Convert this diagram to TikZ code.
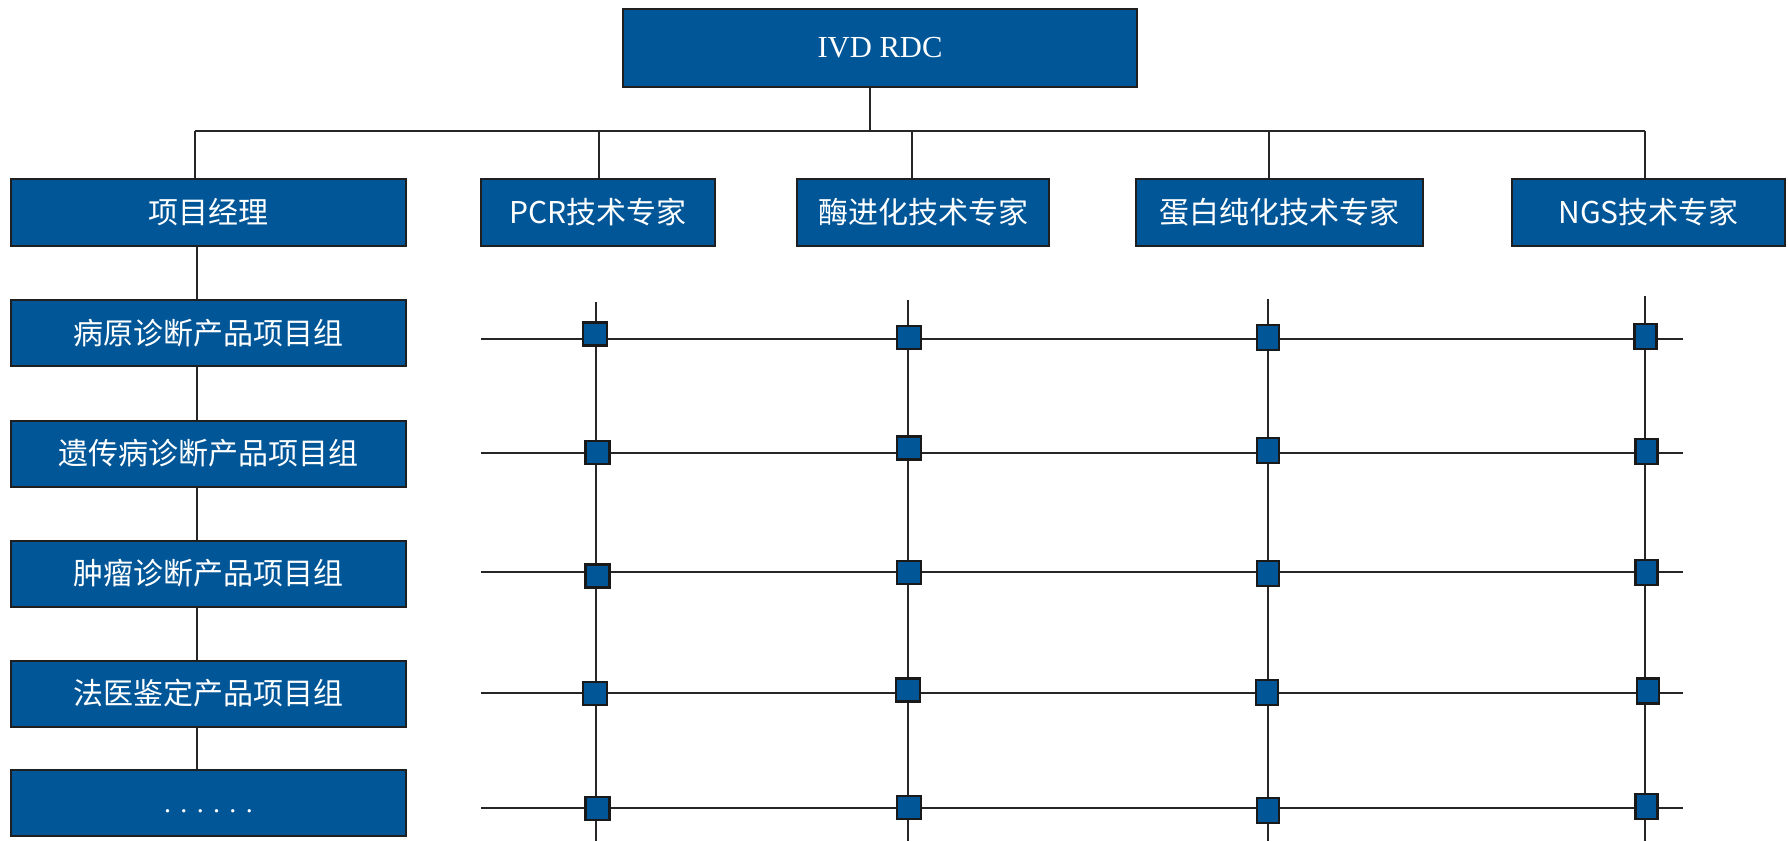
\documentclass[tikz,border=0pt]{standalone}
\usepackage{fontspec}
\setmainfont{Liberation Serif}
\newfontfamily\cjk{Noto Sans CJK SC}
\definecolor{boxblue}{RGB}{1,86,152}
\begin{document}
\begin{tikzpicture}[x=0.5pt,y=-0.5pt,
  box/.style={draw=black!88, line width=1pt, fill=boxblue, text=white, inner sep=0pt, font=\cjk\fontsize{15}{18}\selectfont},
  ln/.style={draw=black!85, line width=0.8pt},
  sqa/.style={draw=black!90, line width=1.2pt, fill=boxblue, inner sep=0pt, minimum width=12pt, minimum height=11.5pt},
  sqb/.style={sqa, minimum width=11pt, minimum height=12.5pt}]
\useasboundingbox (0,0) rectangle (1788,841);

% boxes
\node[box, minimum width=257pt, minimum height=39pt, font=\rmfamily\fontsize{15.3}{18}\selectfont] (top) at (880,48) {IVD RDC};
\node[box, minimum width=197.5pt, minimum height=33.5pt] (pm)  at (208.5,212.5) {项目经理};
\node[box, minimum width=117pt,   minimum height=33.5pt] (pcr) at (598,212.5) {PCR技术专家};
\node[box, minimum width=126pt,   minimum height=33.5pt] (enz) at (923,212.5) {酶进化技术专家};
\node[box, minimum width=143.5pt, minimum height=33.5pt] (pro) at (1279.5,212.5) {蛋白纯化技术专家};
\node[box, minimum width=136.5pt, minimum height=33.5pt] (ngs) at (1648.5,212.5) {NGS技术专家};

\node[box, minimum width=197.5pt, minimum height=33pt] (g1) at (208.5,333) {病原诊断产品项目组};
\node[box, minimum width=197.5pt, minimum height=33pt] (g2) at (208.5,453.5) {遗传病诊断产品项目组};
\node[box, minimum width=197.5pt, minimum height=33pt] (g3) at (208.5,573.5) {肿瘤诊断产品项目组};
\node[box, minimum width=197.5pt, minimum height=33pt] (g4) at (208.5,693.5) {法医鉴定产品项目组};
\node[box, minimum width=197.5pt, minimum height=33pt, text height=9pt, text depth=0pt, font=\rmfamily\fontsize{14}{18}\selectfont] (g5) at (208.5,803) {. . . . . .};

% tree connectors
\coordinate (bus) at (870,131);
\coordinate (bL) at (195,131);
\coordinate (d2) at (599,131);
\coordinate (d3) at (912,131);
\coordinate (d4) at (1269,131);
\coordinate (bR) at (1645,131);
\draw[ln] (top.south -| bus) -- (bus);
\draw[ln] (bL) -- (bR);
\draw[ln] (bL) -- (bL |- pm.north);
\draw[ln] (d2) -- (d2 |- pcr.north);
\draw[ln] (d3) -- (d3 |- enz.north);
\draw[ln] (d4) -- (d4 |- pro.north);
\draw[ln] (bR) -- (bR |- ngs.north);

\coordinate (lx) at (197,0);
\draw[ln] (lx |- pm.south) -- (lx |- g1.north);
\draw[ln] (lx |- g1.south) -- (lx |- g2.north);
\draw[ln] (lx |- g2.south) -- (lx |- g3.north);
\draw[ln] (lx |- g3.south) -- (lx |- g4.north);
\draw[ln] (lx |- g4.south) -- (lx |- g5.north);

% matrix grid
\foreach \i/\y in {1/339,2/453,3/572,4/693,5/808}{
  \coordinate (hL\i) at (481,\y);
  \coordinate (hR\i) at (1683,\y);
  \draw[ln] (hL\i) -- (hR\i);
}
\foreach \j/\x/\t in {1/596/302,2/908/300,3/1268/299,4/1645/296}{
  \coordinate (vT\j) at (\x,\t);
  \coordinate (vB\j) at (\x,841);
  \draw[ln] (vT\j) -- (vB\j);
}

% squares
\node[sqa] (s11) at (595,334) {};
\node[sqa] (s12) at (909,337.5) {};
\node[sqb] (s13) at (1268,337.5) {};
\node[sqb] (s14) at (1645.5,336.4) {};
\node[sqa] (s21) at (597.5,452.7) {};
\node[sqa] (s22) at (909,448) {};
\node[sqb] (s23) at (1268,450.4) {};
\node[sqb] (s24) at (1646.6,451.6) {};
\node[sqa] (s31) at (597.5,575.9) {};
\node[sqa] (s32) at (909,572.4) {};
\node[sqb] (s33) at (1268,573.6) {};
\node[sqb] (s34) at (1646.6,572.4) {};
\node[sqa] (s41) at (595,693.3) {};
\node[sqa] (s42) at (907.7,689.9) {};
\node[sqb] (s43) at (1266.9,692.2) {};
\node[sqb] (s44) at (1647.7,691) {};
\node[sqa] (s51) at (597.5,808.5) {};
\node[sqa] (s52) at (909,807.3) {};
\node[sqb] (s53) at (1268,810.7) {};
\node[sqb] (s54) at (1646.6,806.2) {};
\end{tikzpicture}
\end{document}
